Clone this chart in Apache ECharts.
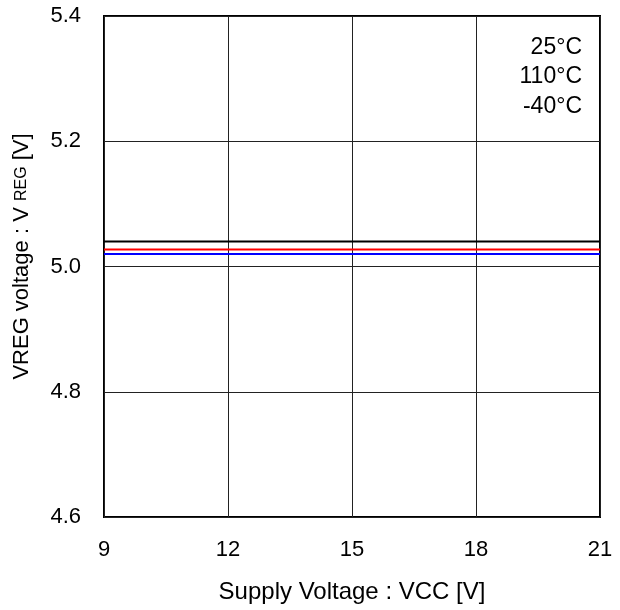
<!DOCTYPE html>
<html><head><meta charset="utf-8">
<script src="https://cdn.jsdelivr.net/npm/echarts@6/dist/echarts.min.js"></script>
<style>html,body{margin:0;padding:0;background:#fff}#c{width:620px;height:610px}</style>
</head><body><div id="c"></div>
<script>
const xValues = [9, 21];
const seriesNames = ['25°C', '110°C', '-40°C'];
const v25 = [5.04, 5.04];
const v110 = [5.027, 5.027];
const vm40 = [5.02, 5.02];
const seriesColors = ['#000000', '#ff0000', '#0000ff'];
const xTicks = [9, 12, 15, 18, 21];
const yTicks = [4.6, 4.8, 5.0, 5.2, 5.4];

const font = 'Liberation Sans, Arial, sans-serif';
const fs = 22;
const chart = echarts.init(document.getElementById('c'));
const allVals = [v25, v110, vm40];
chart.setOption({
  animation: false,
  grid: {left: 104, right: 20, top: 16, bottom: 93, show: true, borderColor: '#000', borderWidth: 2, backgroundColor: 'transparent'},
  legend: {
    data: seriesNames, orient: 'vertical', right: 33, top: 36, align: 'right',
    itemWidth: 0, itemHeight: 0, itemGap: 6.5, icon: 'rect', padding: 0,
    textStyle: {fontFamily: font, fontSize: 23, color: '#000'},
    selectedMode: false
  },
  xAxis: {
    type: 'value', min: 9, max: 21, interval: 3,
    name: 'Supply Voltage : VCC [V]', nameLocation: 'middle', nameGap: 63,
    nameTextStyle: {fontFamily: font, fontSize: 24, color: '#000'},
    axisLine: {show: false}, axisTick: {show: false},
    axisLabel: {fontFamily: font, fontSize: fs, color: '#000', margin: 22,
      formatter: v => xTicks.includes(v) ? String(v) : ''},
    splitLine: {show: true, lineStyle: {color: '#222', width: 1}}
  },
  yAxis: {
    type: 'value', min: 4.6, max: 5.4, interval: 0.2,
    name: '{a|VREG voltage : V }{b|REG}{a| [V]}', nameLocation: 'middle', nameGap: 71,
    nameTextStyle: {padding: [0, 0, 0, 20], rich: {a: {fontFamily: font, fontSize: 22, color: '#000'}, b: {fontFamily: font, fontSize: 16, color: '#000'}}},
    axisLine: {show: false}, axisTick: {show: false},
    axisLabel: {fontFamily: font, fontSize: fs, color: '#000', margin: 23,
      formatter: v => yTicks.some(t => Math.abs(t - v) < 1e-9) ? v.toFixed(1) : ''},
    splitLine: {show: true, lineStyle: {color: '#222', width: 1}}
  },
  series: seriesNames.map((n, i) => ({
    name: n, type: 'line', symbol: 'none',
    data: xValues.map((x, j) => [x, allVals[i][j]]),
    lineStyle: {color: seriesColors[i], width: 2}, itemStyle: {color: seriesColors[i]}
  }))
});
</script></body></html>
